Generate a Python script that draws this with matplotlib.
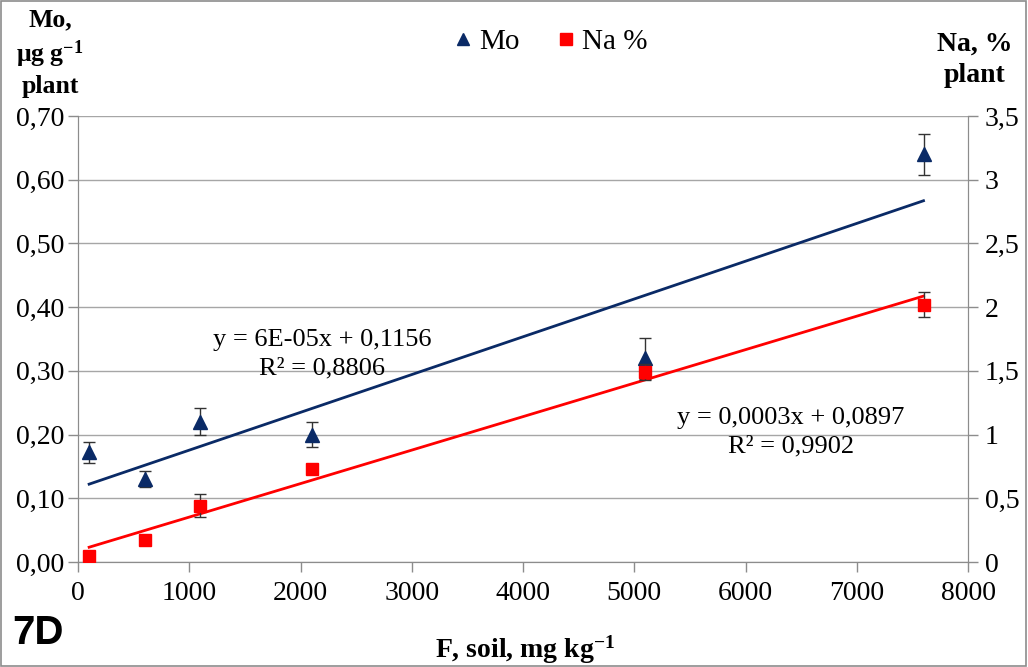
import numpy as np
import matplotlib
matplotlib.use("Agg")
import matplotlib.pyplot as plt
from matplotlib.patches import Rectangle
from matplotlib.ticker import FuncFormatter

plt.rcParams['font.family'] = ['Liberation Serif', 'DejaVu Serif']
plt.rcParams['mathtext.fontset'] = 'custom'
plt.rcParams['mathtext.rm'] = 'Liberation Serif:bold'
plt.rcParams['mathtext.bf'] = 'Liberation Serif:bold'
plt.rcParams['mathtext.it'] = 'Liberation Serif:italic:bold'

# Data
f_soil = [100, 600, 1100, 2100, 5100, 7600]
mo = [0.172, 0.130, 0.220, 0.200, 0.320, 0.640]
mo_err = [0.017, 0.013, 0.021, 0.019, 0.032, 0.032]
na = [0.05, 0.17, 0.44, 0.73, 1.49, 2.02]
na_err = [0.0, 0.0, 0.09, 0.0, 0.06, 0.1]
left_ticks = [0.0, 0.1, 0.2, 0.3, 0.4, 0.5, 0.6, 0.7]
right_ticks = [0, 0.5, 1, 1.5, 2, 2.5, 3, 3.5]
x_ticks = [0, 1000, 2000, 3000, 4000, 5000, 6000, 7000, 8000]

navy = '#0a2a66'
red = '#ff0000'
grey = '#8c8c8c'

fig = plt.figure(figsize=(10.28, 6.67), dpi=100)
ax = fig.add_axes([78/1028, 105/667, 890/1028, 446/667])
ax2 = ax.twinx()

# trendlines (linear least squares on the data)
x = np.array(f_soil, dtype=float)
pm = np.polyfit(x, mo, 1)
pn = np.polyfit(x, na, 1)
xl = np.array([x.min(), x.max()])
ax.plot(xl, np.polyval(pm, xl), color=navy, lw=2, zorder=3)
ax2.plot(xl, np.polyval(pn, xl), color=red, lw=2, zorder=3)

ax.errorbar(f_soil, mo, yerr=mo_err, fmt='^', color=navy, ms=10, mec=navy,
            ecolor='#333333', elinewidth=1, capsize=4, capthick=1, zorder=4)
ax2.errorbar(f_soil, na, yerr=na_err, fmt='s', color=red, ms=9, mec=red,
             ecolor='#333333', elinewidth=1, capsize=4, capthick=1, zorder=4)

ax.set_xlim(0, 8000)
ax.set_ylim(0, 0.7)
ax2.set_ylim(0, 3.5)
ax.set_xticks(x_ticks)
ax.set_yticks(left_ticks)
ax2.set_yticks(right_ticks)
ax.yaxis.set_major_formatter(FuncFormatter(lambda v, p: f"{v:.2f}".replace('.', ',')))
ax2.yaxis.set_major_formatter(FuncFormatter(lambda v, p: (f"{v:g}").replace('.', ',')))
ax.grid(axis='y', color='#a6a6a6', lw=1)
ax.set_axisbelow(True)

for a in (ax, ax2):
    a.spines['top'].set_visible(False)
    for s in ['left', 'right', 'bottom']:
        a.spines[s].set_color(grey)
    a.tick_params(colors=grey, labelcolor='black', labelsize=20, length=7, width=1, direction='out')
ax.tick_params(axis='x', pad=7)
ax.tick_params(axis='y', pad=3)
ax2.tick_params(axis='y', pad=5)

# labels
fig.text(50/1028, 1 - 53/667, "Mo,\nμg g$^{-1}$\nplant", ha='center', va='center',
         fontsize=18.5, fontweight='bold', linespacing=1.3)
fig.text(975/1028, 1 - 60/667, "Na, %\nplant", ha='center', va='center',
         fontsize=20, fontweight='bold', linespacing=1.3)
fig.text(525/1028, 1 - 650/667, "F, soil, mg kg$^{-1}$", ha='center', va='center',
         fontsize=20, fontweight='bold')
fig.text(12/1028, 1 - 633/667, "7D", ha='left', va='center', fontsize=29,
         fontweight='bold', family=['Liberation Sans Narrow', 'Liberation Sans'])

# equations
fig.text(322/1028, 1 - 340/667, "y = 6E-05x + 0,1156", ha='center', va='center', fontsize=19)
fig.text(322/1028, 1 - 368/667, "R² = 0,8806", ha='center', va='center', fontsize=19)
fig.text(791/1028, 1 - 418/667, "y = 0,0003x + 0,0897", ha='center', va='center', fontsize=19)
fig.text(791/1028, 1 - 446/667, "R² = 0,9902", ha='center', va='center', fontsize=19)

# legend
h1 = plt.Line2D([], [], ls='none', marker='^', color=navy, ms=8)
h2 = plt.Line2D([], [], ls='none', marker='s', color=red, ms=8)
fig.legend([h1, h2], ['Mo', 'Na %'], loc='center', bbox_to_anchor=(548/1028, 1 - 42/667),
           ncol=2, frameon=False, fontsize=21, handletextpad=0.05, columnspacing=1.1,
           handlelength=1.0)

fig.add_artist(Rectangle((0.001, 0.001), 0.997, 0.997, transform=fig.transFigure,
                         fill=False, edgecolor=grey, lw=1.2))

fig.savefig("out.png", dpi=100)
